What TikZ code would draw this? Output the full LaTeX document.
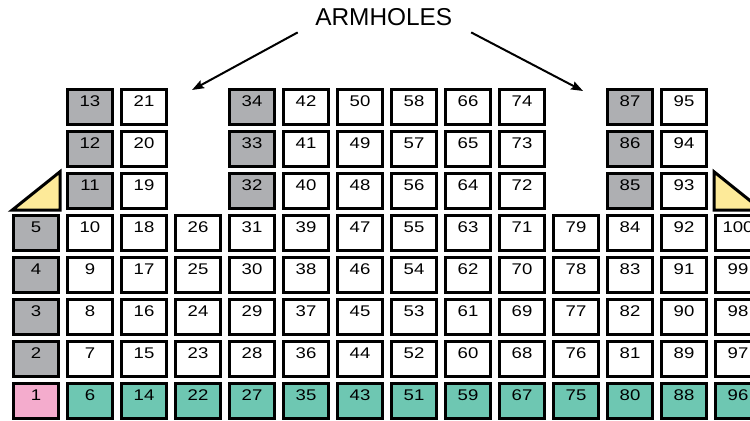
\documentclass[tikz,border=0pt]{standalone}
\usepackage{fontspec}
\setmainfont{Liberation Sans}
\newfontfamily\cellfont[FakeStretch=1.2]{Liberation Sans}
\usetikzlibrary{arrows.meta}
\definecolor{boxgray}{RGB}{174,175,178}
\definecolor{boxteal}{RGB}{110,199,178}
\definecolor{boxpink}{RGB}{244,172,205}
\definecolor{gusset}{RGB}{253,234,153}

\begin{document}
\begin{tikzpicture}[x=40.5pt,y=31.5pt,
  cell/.style={draw,line width=2.25pt,fill=white,inner sep=0pt,
    minimum width=33.75pt,minimum height=26.6pt,text height=8.3pt,text depth=9pt,
    font={\cellfont\fontsize{11.6}{12}\selectfont}},
  armarrow/.style={line width=1.5pt,-{Stealth[length=9pt,width=6.5pt,inset=1.5pt]}}]
\useasboundingbox (-0.6667,-0.4762) rectangle (13.2222,9.5476);
\clip (-0.6667,-0.4762) rectangle (13.2222,9.5476);
% bottom row
\node[cell,fill=boxpink] (n1) at (0,0) {1};
\foreach \c/\v in {1/6,2/14,3/22,4/27,5/35,6/43,7/51,8/59,9/67,10/75,11/80,12/88,13/96}
  \node[cell,fill=boxteal] (n\v) at (\c,0) {\v};
% columns: column/first value/height/first gray row
\foreach \c/\v/\h/\g in {0/1/4/1,1/6/7/5,2/14/7/8,3/22/4/8,4/27/7/5,5/35/7/8,6/43/7/8,
    7/51/7/8,8/59/7/8,9/67/7/8,10/75/4/8,11/80/7/5,12/88/7/8,13/96/4/8}
  \foreach \r in {1,...,\h} {
    \pgfmathtruncatemacro\num{\v+\r}
    \ifnum\r<\g \def\tone{white}\else\def\tone{boxgray}\fi
    \node[cell,fill=\tone] (n\num) at (\c,\r) {\num};
  }
% gussets
\node[cell,draw=none,fill=none] (lgus) at (0,5) {};
\node[cell,draw=none,fill=none] (rgus) at (13,5) {};
\filldraw[fill=gusset,line width=2.25pt] (lgus.south west) -- (lgus.north east) -- (lgus.south east) -- cycle;
\filldraw[fill=gusset,line width=2.25pt] (rgus.north west) -- (rgus.south west) -- (rgus.south east) -- cycle;
% label
\node[inner sep=0pt,font=\fontsize{18.3}{20}\selectfont] (arm) at (6.44,9.131) {ARMHOLES};
\coordinate (lhole) at (2.889,7.405);
\coordinate (rhole) at (10.13,7.381);
\draw[armarrow] ([xshift=-13pt,yshift=-4.5pt]arm.south west) -- (lhole);
\draw[armarrow] ([xshift=14pt,yshift=-4.5pt]arm.south east) -- (rhole);
\end{tikzpicture}
\end{document}
